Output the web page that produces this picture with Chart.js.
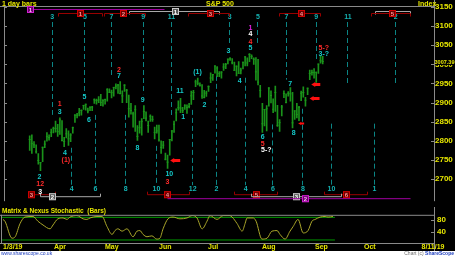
<!DOCTYPE html>
<html>
<head>
<meta charset="utf-8">
<script src="https://cdn.jsdelivr.net/npm/chart.js@4.4.0/dist/chart.umd.min.js"></script>
<style>
html, body { margin: 0; padding: 0; background: #000; }
#wrap { position: relative; width: 455px; height: 256px; background: #000; overflow: hidden; }
#priceChart { position: absolute; left: 0; top: 0; }
#stochChart { position: absolute; left: 0; top: 207px; }
.t { position: absolute; font-family: "Liberation Sans", Arial, sans-serif; font-weight: bold; color: #e6e600; font-size: 7px; line-height: 7px; white-space: nowrap; }
#footer { position: absolute; left: 0; top: 251px; width: 455px; height: 5px; background: #fff; font-family: "Liberation Sans", Arial, sans-serif; font-size: 5px; line-height: 5px; }
</style>
</head>
<body>
<div id="wrap">
  <canvas id="priceChart" width="455" height="207"></canvas>
  <canvas id="stochChart" width="455" height="44"></canvas>
  <div class="t" style="left:2px;top:0px;">1 day bars</div>
  <div class="t" style="left:206px;top:0px;">S&amp;P 500</div>
  <div class="t" style="left:418px;top:0px;">Index</div>
  <div class="t" style="left:2px;top:207px;font-size:6.5px;">Matrix &amp; Nexus Stochastic&nbsp; (Bars)</div>
  <div id="footer">
    <span style="position:absolute;left:1px;top:0;color:#2040c0;">www.sharescope.co.uk</span>
    <span style="position:absolute;right:1px;top:0;color:#707070;">Chart (c) <b style="color:#2040c0;">ShareScope</b></span>
  </div>
</div>
<script>
// ---- daily bars, 1 Mar 2019 .. 13 Sep 2019 (x = trading day index) ----
const highs = [
  2813, 2816, 2798, 2790, 2767, 2744, 2784, 2800, 2822, 2816, 2831, 2836, 2852, 2843, 2860, 2853, 2809, 2832, 2826, 2819, 2836,
  2869, 2872, 2885, 2881, 2893, 2896, 2886, 2889, 2890, 2910, 2909, 2916, 2922, 2908, 2909, 2937, 2936, 2933, 2940, 2949, 2948,
  2955, 2931, 2947, 2935, 2920, 2898, 2875, 2892, 2840, 2852, 2858, 2892, 2876, 2852, 2868, 2865, 2836, 2841, 2841, 2800, 2799, 2768,
  2763, 2804, 2827, 2852, 2884, 2905, 2911, 2888, 2895, 2894, 2898, 2930, 2932, 2959, 2964, 2952, 2947, 2932, 2930, 2944,
  2978, 2974, 2996, 2994, 2981, 2981, 3002, 3003, 3014, 3018, 3015, 3006, 2996, 3007, 2990, 3006, 3020, 3017, 3028, 3025, 3017, 3018,
  3013, 2945, 2898, 2882, 2892, 2939, 2931, 2910, 2943, 2893, 2856, 2893, 2931, 2923, 2929, 2939, 2927, 2879, 2898, 2890, 2930, 2941,
  2914, 2938, 2985, 2985, 2989, 2980, 3001, 3021, 3021
];
const lows = [
  2775, 2767, 2782, 2768, 2739, 2722, 2746, 2782, 2799, 2802, 2811, 2821, 2823, 2812, 2817, 2800, 2785, 2808, 2788, 2798, 2820,
  2848, 2860, 2865, 2867, 2882, 2880, 2873, 2879, 2879, 2898, 2896, 2900, 2892, 2891, 2896, 2904, 2926, 2912, 2917, 2936, 2924,
  2923, 2900, 2929, 2900, 2862, 2870, 2836, 2825, 2801, 2820, 2815, 2858, 2852, 2822, 2851, 2851, 2805, 2820, 2799, 2767, 2780, 2750,
  2728, 2763, 2800, 2822, 2852, 2880, 2874, 2874, 2882, 2872, 2886, 2895, 2908, 2942, 2946, 2943, 2911, 2912, 2916, 2929,
  2952, 2958, 2977, 2968, 2968, 2964, 2984, 2989, 3001, 3010, 3001, 2984, 2970, 2976, 2975, 2988, 2996, 2996, 3007, 3015, 3000, 2959,
  2946, 2914, 2822, 2839, 2826, 2891, 2899, 2874, 2877, 2838, 2825, 2865, 2913, 2899, 2917, 2904, 2834, 2856, 2860, 2853, 2905, 2914,
  2891, 2921, 2960, 2972, 2964, 2953, 2976, 3003, 3001
];
const closes = [
  2803.69, 2792.81, 2789.65, 2771.45, 2748.93, 2743.07, 2783.30, 2791.52, 2810.92, 2808.48, 2822.48, 2832.94, 2832.57, 2824.23, 2854.88, 2800.71, 2798.36, 2818.46, 2805.37, 2815.44, 2834.40,
  2867.19, 2867.24, 2873.40, 2879.39, 2892.74, 2895.77, 2878.20, 2888.21, 2888.32, 2907.41, 2905.58, 2907.06, 2900.45, 2905.03, 2907.97, 2933.68, 2927.25, 2926.17, 2939.88, 2943.03, 2945.83,
  2923.73, 2917.52, 2945.64, 2932.47, 2884.05, 2879.42, 2870.72, 2881.40, 2811.87, 2834.41, 2850.96, 2876.32, 2859.53, 2840.23, 2864.36, 2856.27, 2822.24, 2826.06, 2802.39, 2783.02, 2788.86, 2752.06,
  2744.45, 2803.27, 2826.15, 2843.49, 2873.34, 2886.73, 2885.72, 2879.84, 2891.64, 2886.98, 2889.67, 2917.75, 2926.46, 2954.18, 2950.46, 2945.35, 2917.38, 2913.78, 2924.92, 2941.76,
  2964.33, 2973.01, 2995.82, 2990.41, 2975.95, 2979.63, 2993.07, 2999.91, 3013.77, 3014.30, 3004.04, 2984.42, 2995.11, 2976.61, 2985.03, 3005.47, 3019.56, 3003.67, 3025.86, 3020.97, 3013.18, 2980.38,
  2953.56, 2932.05, 2844.74, 2881.77, 2883.98, 2938.09, 2918.65, 2882.70, 2926.32, 2840.60, 2847.60, 2888.68, 2923.65, 2900.51, 2924.43, 2922.95, 2847.11, 2878.38, 2869.16, 2887.94, 2924.58, 2926.46,
  2906.27, 2937.78, 2976.00, 2978.71, 2978.43, 2979.39, 3000.93, 3009.57, 3007.39
];

// stochastic
const stochIdx = [0, 0.8, 3.7, 5, 7, 9, 12.3, 14.3, 16.4, 19.3, 20.5, 22.5, 24.6, 26.2, 27.5, 30.3, 32.8, 34.4, 35.7, 38.5,
  40.6, 42.6, 44.7, 45.9, 47.1, 48.8, 50.8, 53.3, 54.9, 56.1, 57.4, 59, 61, 63, 64.3, 65.6, 67.6, 69.7, 72.5, 75.4,
  77.5, 79.5, 81.6, 83.6, 84.8, 87.7, 90.2, 93, 93.9, 95.9, 98, 99.2, 100, 102.5, 103.7, 106.1, 108.2, 110.2, 112.3, 113.5,
  115.6, 117.6, 118.9, 120.9, 123, 125, 126.6, 127.9, 130, 132, 133.2, 135.2];
const stochVal = [83, 77, 19, 24, 69, 91, 93, 77, 64, 51, 64, 85, 88, 83, 91, 96, 85, 83, 88, 93,
  93, 59, 32, 45, 51, 43, 51, 24, 43, 45, 32, 24, 27, 16, 19, 51, 85, 91, 85, 88,
  96, 88, 51, 77, 96, 83, 96, 96, 91, 69, 43, 69, 88, 88, 77, 16, 19, 43, 45, 32,
  16, 43, 59, 83, 37, 45, 77, 83, 91, 93, 91, 93];
const stochBands = [90, 13];
const stochTicks = [40, 80];

const priceTicks = [2700, 2750, 2800, 2850, 2900, 2950, 3000, 3050, 3100, 3150];
const monthIdx = [0, 21, 42, 64, 84, 106, 128, 148, 176];
const monthLabel = ['1/3/19', 'Apr', 'May', 'Jun', 'Jul', 'Aug', 'Sep', 'Oct', '8/11/19'];

// cycle lines
const topCycleIdx = [10.2, 25.4, 37.7, 52.5, 65.6, 92.6, 105.7, 118.9, 132.8, 147.5, 169.7];
const topCycleLabel = ['3', '5', '7', '9', '11', '3', '5', '7', '9', '11', '2'];
const topCycleEnd = [2868, 2922, 2965, 2922, 2863, 3051, 3056, 2960, 3010, 2947, 2947];
const botCycleIdx = [19.3, 30.3, 44.3, 58.6, 75.4, 86.5, 100, 112.7, 126.6, 139.8, 159.8];
const botCycleLabel = ['4', '6', '8', '10', '12', '2', '4', '6', '8', '10', '1'];
const botCycleStart = [2782, 2868, 2868, 2787, 2881, 2970, 2965, 2843, 2884, 2845, 2845];

// time bands [from, to, box, label]
const topPurpleBands = [[-0.4, 62.3, 0, '1']];
const topGreyBands = [[46.3, 87.7, 67.6, '1'], [160.2, 176.6, null, '']];
const topRedBands = [[13.1, 33.6, 23.4, '1'], [34.4, 53.3, 43.4, '2'], [73.4, 92.6, 83.6, '3'], [115.6, 134.8, 125.8, '4'], [158.2, 176.6, 168, '5']];
const lowRedBands = [[-0.4, 11.9, 0.8, '3'], [54.5, 73.8, 63.5, '4'], [94.7, 114.8, 104.9, '5'], [136.5, 156.6, 146.7, '6']];
const lowGreyBands = [[4.9, 32.8, 10.2, '2'], [102.9, 144.3, 123.8, '3']];
const lowPurpleBands = [[63.5, 176.6, 127.9, '2']];

// wave labels
const waveText = ['2', '12', '3', '1', '3', '4', '(1)', '5', '6', '2', '7', '8', '9', '10', '3', '11', '1', '(1)', '2', '3', '4',
  '1', '4', '4', '5', '6', '5', '5-?', '7', '8', '5-?', '3-?'];
const waveIdx = [4.5, 4.9, 4.9, 13.9, 13.9, 16.4, 16.8, 25.4, 27.5, 41.4, 41.4, 50, 52.5, 64.8, 63.9, 69.7, 71.3, 77.9, 81.1, 92.2, 97.5,
  102.5, 102.5, 102.5, 102.5, 108.2, 108.2, 109.8, 120.9, 122.5, 136.5, 136.5];
const wavePrice = [2706, 2688, 2667, 2896, 2876, 2767, 2751, 2914, 2855, 2985, 2970, 2782, 2906, 2713, 2693, 2929, 2863, 2980, 2894, 3036, 2957,
  3094, 3079, 3059, 3043, 2810, 2792, 2777, 2949, 2820, 3043, 3028];
const waveKind = ['c', 'r', 'w', 'r', 'c', 'c', 'r', 'c', 'c', 'r', 'c', 'c', 'c', 'c', 'r', 'c', 'c', 'c', 'c', 'c', 'c',
  'm', 'w', 'r', 'c', 'c', 'r', 'w', 'c', 'c', 'r', 'c'];

// signal arrows (tip position)
const arrowIdx = [65.2, 129.9, 130.7, 124.6];
const arrowPrice = [2751, 2911, 2949, 2848];

// ---- styles ----
const arrowSizes = [10, 10, 9, 6];
const kindColor = { c: '#14caca', r: '#ff2a2a', w: '#ffffff', m: '#e020e0' };
const FONT = '"Liberation Sans", Arial, sans-serif';
const YELLOW = '#e6e600';
const FRAME = '#8a8a8a';

const barData = closes.map((c, i) => ({ x: i, y: [lows[i], highs[i]] }));
const closeData = closes.map((c, i) => ({ x: i, y: c }));
const lastIdx = closes.length - 1;

const px = (chart, i) => chart.scales.x.getPixelForValue(i);
const py = (chart, v) => chart.scales.y.getPixelForValue(v);

function drawBands(chart, bands, y, dir, line, fill, edge, text) {
  const ctx = chart.ctx;
  bands.forEach(([from, to, box, label]) => {
    const x1 = Math.round(px(chart, from)) + 0.5;
    const x2 = Math.round(px(chart, to)) + 0.5;
    ctx.strokeStyle = line;
    ctx.lineWidth = 1;
    ctx.beginPath();
    ctx.moveTo(x1, y + 3 * dir);
    ctx.lineTo(x1, y);
    ctx.lineTo(x2, y);
    ctx.lineTo(x2, y + 3 * dir);
    ctx.stroke();
    if (box !== null) {
      const bx = Math.round(px(chart, box));
      ctx.fillStyle = fill;
      ctx.fillRect(bx - 3, y - 3.5, 7, 7);
      ctx.strokeStyle = edge;
      ctx.strokeRect(bx - 2.5, y - 3, 6, 6);
      ctx.fillStyle = text;
      ctx.font = 'bold 6px ' + FONT;
      ctx.textAlign = 'center';
      ctx.textBaseline = 'middle';
      ctx.fillText(label, bx + 0.5, y + 0.5);
    }
  });
}

function drawArrow(ctx, x, y, len) {
  const hh = len > 7 ? 2.5 : 1.5;
  const hl = len > 7 ? 4 : 3;
  const sh = len > 7 ? 1.5 : 1;
  ctx.beginPath();
  ctx.moveTo(x, y);
  ctx.lineTo(x + hl, y - hh);
  ctx.lineTo(x + hl, y + hh);
  ctx.closePath();
  ctx.fill();
  ctx.fillRect(x + hl - 0.5, y - sh, len - hl + 0.5, sh * 2);
}

const priceDecor = {
  id: 'priceDecor',
  beforeDatasetsDraw(chart) {
    const { ctx, chartArea: a } = chart;
    ctx.save();
    ctx.strokeStyle = FRAME;
    ctx.lineWidth = 1;
    ctx.beginPath();
    ctx.moveTo(0, a.top + 0.5); ctx.lineTo(a.right, a.top + 0.5);
    ctx.moveTo(a.left - 0.5, a.top); ctx.lineTo(a.left - 0.5, a.bottom);
    ctx.moveTo(a.right + 0.5, 0); ctx.lineTo(a.right + 0.5, a.bottom);
    priceTicks.forEach(v => {
      const y = Math.round(py(chart, v)) + 0.5;
      ctx.moveTo(a.left, y); ctx.lineTo(a.left + 2, y);
      ctx.moveTo(a.right - 3, y); ctx.lineTo(a.right, y);
    });
    ctx.stroke();

    // dashed cycle lines
    ctx.strokeStyle = '#0b8585';
    ctx.setLineDash([5, 3]);
    topCycleIdx.forEach((i, k) => {
      const x = Math.round(px(chart, i)) + 0.5;
      ctx.beginPath();
      ctx.moveTo(x, a.top + 16);
      ctx.lineTo(x, py(chart, topCycleEnd[k]));
      ctx.stroke();
    });
    botCycleIdx.forEach((i, k) => {
      const x = Math.round(px(chart, i)) + 0.5;
      ctx.beginPath();
      ctx.moveTo(x, py(chart, botCycleStart[k]));
      ctx.lineTo(x, a.bottom - 16);
      ctx.stroke();
    });
    ctx.setLineDash([]);
    ctx.font = 'bold 7px ' + FONT;
    ctx.fillStyle = '#14b4b4';
    ctx.textAlign = 'center';
    ctx.textBaseline = 'middle';
    topCycleIdx.forEach((i, k) => ctx.fillText(topCycleLabel[k], px(chart, i) + 0.5, a.top + 11));
    botCycleIdx.forEach((i, k) => ctx.fillText(botCycleLabel[k], px(chart, i) + 0.5, a.bottom - 12));
    ctx.restore();
  },
  afterDatasetsDraw(chart) {
    const { ctx, chartArea: a } = chart;
    ctx.save();
    drawBands(chart, topPurpleBands, 9.5, 0, '#a000a0', '#6a006a', '#d020d0', '#ffb0ff');
    drawBands(chart, topGreyBands, 11.5, 1, '#a8a8a8', '#5a5a5a', '#c8c8c8', '#ffffff');
    drawBands(chart, topRedBands, 13.5, 1, '#980000', '#6a0000', '#d00000', '#ff9090');
    drawBands(chart, lowRedBands, a.bottom - 6.5, -1, '#980000', '#6a0000', '#d00000', '#ff9090');
    drawBands(chart, lowGreyBands, a.bottom - 4.5, -1, '#a8a8a8', '#5a5a5a', '#c8c8c8', '#ffffff');
    drawBands(chart, lowPurpleBands, a.bottom - 2.5, 0, '#a000a0', '#6a006a', '#d020d0', '#ffb0ff');

    // wave labels
    ctx.font = 'bold 7px ' + FONT;
    ctx.textAlign = 'center';
    ctx.textBaseline = 'middle';
    waveText.forEach((t, k) => {
      ctx.fillStyle = kindColor[waveKind[k]];
      ctx.fillText(t, px(chart, waveIdx[k]), py(chart, wavePrice[k]));
    });

    // arrows
    ctx.fillStyle = '#ff1010';
    arrowIdx.forEach((i, k) => drawArrow(ctx, px(chart, i), Math.round(py(chart, arrowPrice[k])) + 0.5, arrowSizes[k]));

    // last price box
    const last = closes[lastIdx];
    const ly = Math.round(py(chart, last));
    ctx.fillStyle = '#000';
    ctx.fillRect(a.right + 1, ly - 4, 21, 7);
    ctx.fillStyle = YELLOW;
    ctx.font = 'bold 6px ' + FONT;
    ctx.textAlign = 'left';
    ctx.fillText(last.toFixed(2), a.right + 0.5, ly, 20);
    ctx.restore();
  }
};

const stochDecor = {
  id: 'stochDecor',
  afterDatasetsDraw(chart) {
    const { ctx, chartArea: a } = chart;
    ctx.save();
    ctx.strokeStyle = FRAME;
    ctx.lineWidth = 1;
    ctx.beginPath();
    ctx.moveTo(0, a.top + 0.5); ctx.lineTo(a.right, a.top + 0.5);
    ctx.moveTo(0, a.bottom + 0.5); ctx.lineTo(a.right, a.bottom + 0.5);
    ctx.moveTo(a.left - 0.5, a.top); ctx.lineTo(a.left - 0.5, a.bottom);
    ctx.moveTo(a.right + 0.5, 0); ctx.lineTo(a.right + 0.5, chart.height);
    stochTicks.forEach(v => {
      const y = Math.round(chart.scales.y.getPixelForValue(v)) + 0.5;
      ctx.moveTo(a.right - 3, y); ctx.lineTo(a.right, y);
    });
    ctx.stroke();
    ctx.font = 'bold 7px ' + FONT;
    ctx.fillStyle = YELLOW;
    ctx.textBaseline = 'middle';
    monthIdx.forEach((i, k) => {
      ctx.textAlign = k === monthIdx.length - 1 ? 'center' : 'left';
      ctx.fillText(monthLabel[k], Math.round(px(chart, i)), a.bottom + 4.5);
    });
    ctx.restore();
  }
};

const tickFont = { family: FONT, size: 8, weight: 'bold' };

new Chart(document.getElementById('priceChart'), {
  data: {
    datasets: [
      { type: 'scatter', data: closeData, pointStyle: 'line', pointRadius: 1, borderColor: '#1c961c', borderWidth: 1, showLine: false },
      { type: 'bar', data: barData, backgroundColor: '#1a921a', barThickness: 1, grouped: false }
    ]
  },
  options: {
    responsive: false,
    animation: false,
    events: [],
    layout: { padding: { left: 2, top: 6, right: 0, bottom: 0 } },
    plugins: { legend: { display: false }, tooltip: { enabled: false } },
    scales: {
      x: { type: 'linear', min: -0.4, max: 176.6, display: false },
      y: {
        position: 'right', min: 2642.4, max: 3152.5,
        grid: { display: false, drawTicks: false }, border: { display: false },
        afterBuildTicks: s => { s.ticks = priceTicks.map(v => ({ value: v })); },
        afterFit: s => { s.width = 21; },
        ticks: { color: YELLOW, font: tickFont, padding: 1, autoSkip: false, callback: v => String(v) }
      }
    }
  },
  plugins: [priceDecor]
});

new Chart(document.getElementById('stochChart'), {
  type: 'line',
  data: {
    datasets: [
      { data: stochIdx.map((x, k) => ({ x: x, y: stochVal[k] })), borderColor: '#aaa62a', borderWidth: 1, pointRadius: 0, cubicInterpolationMode: 'monotone' }
    ].concat(stochBands.map(v => ({
      data: [{ x: -0.4, y: v }, { x: lastIdx, y: v }], borderColor: '#009a00', borderWidth: 1, pointRadius: 0
    })))
  },
  options: {
    responsive: false,
    animation: false,
    events: [],
    layout: { padding: { left: 2, top: 0, right: 0, bottom: 8 } },
    plugins: { legend: { display: false }, tooltip: { enabled: false } },
    scales: {
      x: { type: 'linear', min: -0.4, max: 176.6, display: false },
      y: {
        position: 'right', min: 2.7, max: 98.7,
        grid: { display: false, drawTicks: false }, border: { display: false },
        afterBuildTicks: s => { s.ticks = stochTicks.map(v => ({ value: v })); },
        afterFit: s => { s.width = 21; },
        ticks: { color: YELLOW, font: tickFont, padding: 3, autoSkip: false, callback: v => String(v) }
      }
    }
  },
  plugins: [stochDecor]
});
</script>
</body>
</html>
